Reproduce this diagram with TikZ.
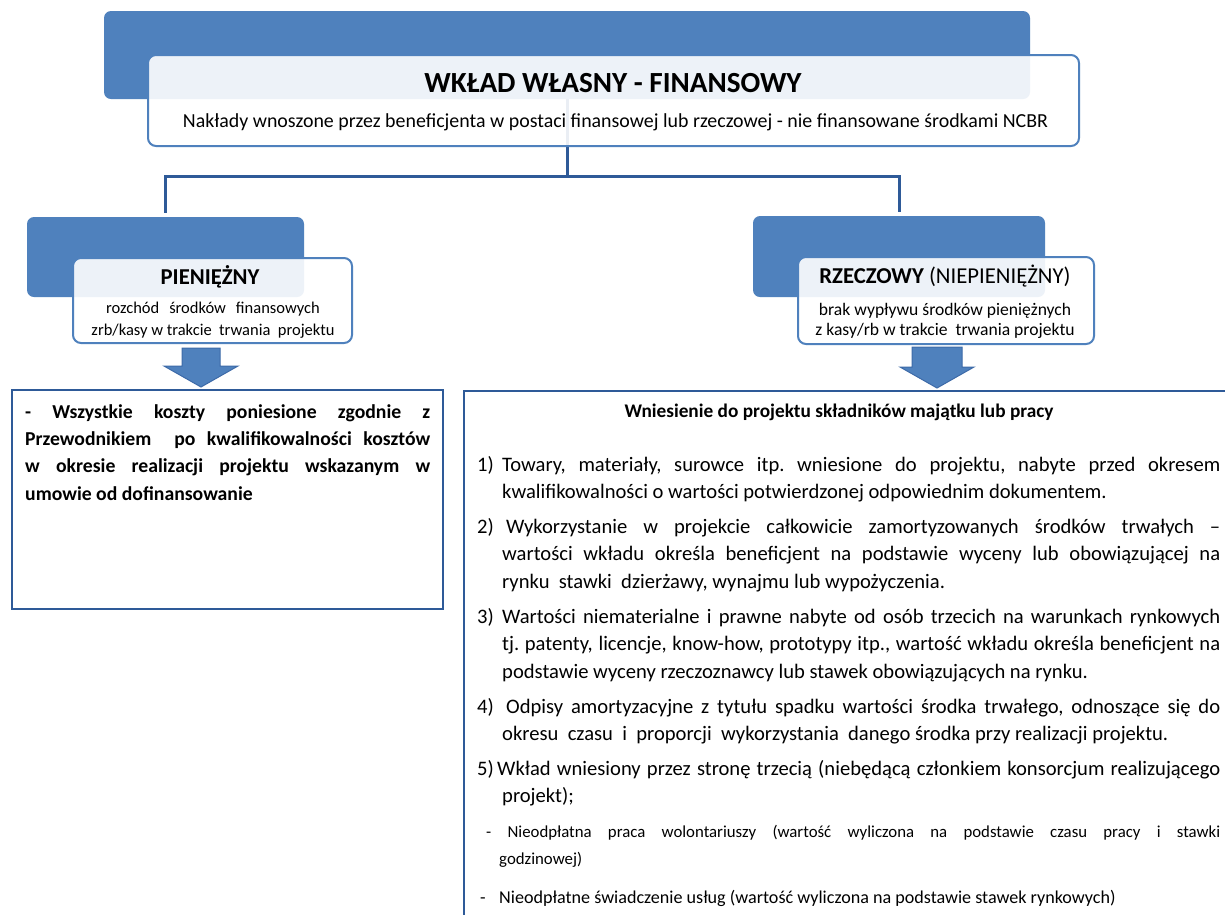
\documentclass[tikz,border=0pt]{standalone}
\usepackage{fontspec}
\setmainfont{Carlito}
\frenchspacing
\definecolor{ofblue}{HTML}{4F81BD}
\definecolor{lnblue}{HTML}{2E5A98}
\definecolor{arblue}{HTML}{3D6AA8}
\newlength\hangamt
\setlength\hangamt{25pt}
\newcommand\jfull[1]{\hbox to\hsize{#1}}
\newcommand\jhang[1]{\moveright\hangamt\hbox to\dimexpr\hsize-\hangamt\relax{#1}}
\newcommand\jend[1]{\moveright\hangamt\hbox{#1}}
\newcommand\numlbl[1]{\makebox[25pt][l]{#1}}
\tikzset{
  backbox/.style={fill=ofblue, draw=none, rounded corners=7pt, inner sep=0pt},
  frontbox/.style={draw=ofblue, line width=2pt, fill=white, fill opacity=0.9, rounded corners=8pt, inner sep=0pt},
  link/.style={draw=lnblue, line width=3pt},
  panel/.style={draw=lnblue, line width=2.2pt, inner sep=0pt},
  blockarrow/.style={fill=ofblue, draw=arblue, line width=1pt, line join=miter},
  txt/.style={inner sep=0pt, text=black},
  body/.style={txt, anchor=base west, font=\fontsize{20.6}{27.6}\selectfont},
}
\begin{document}
\begin{tikzpicture}[x=1pt,y=-1pt]
\useasboundingbox (0,0) rectangle (1225,914);
\fill[white] (0,0) rectangle (1225,914);

% back boxes
\node[backbox, minimum width=926pt, minimum height=88pt] (topback) at (567,55) {};
\node[backbox, minimum width=277pt, minimum height=80pt] (lback) at (165.5,257) {};
\node[backbox, minimum width=292pt, minimum height=81pt] (rback) at (899,256.5) {};

% connectors
\draw[link] (topback.south) -- ++(0,77) coordinate (junc);
\draw[link, shorten >=4pt] (junc) -| (lback.north);
\draw[link, shorten >=4pt] (junc) -| (rback.north);

% front boxes
\node[frontbox, minimum width=931pt, minimum height=91pt] (topfront) at (613.5,100.5) {};
\node[frontbox, minimum width=279pt, minimum height=85pt] (lfront) at (212.5,300.5) {};
\node[frontbox, minimum width=296pt, minimum height=87pt] (rfront) at (946,300.5) {};

% texts of the header boxes
\node[txt, anchor=base, font=\fontsize{29.2}{33}\selectfont\bfseries] (ttitle) at (613,92) {WKŁAD WŁASNY - FINANSOWY};
\node[txt, anchor=base, font=\fontsize{19.9}{23}\selectfont] (tsub) at (615.5,127) {Nakłady wnoszone przez beneficjenta w postaci finansowej lub rzeczowej - nie finansowane środkami NCBR};

\node[txt, anchor=base, font=\fontsize{22.7}{26}\selectfont\bfseries] (ltitle) at (210,284) {PIENIĘŻNY};
\node[txt, anchor=base, font=\fontsize{16.5}{20}\selectfont] (lsub1) at (213,313) {rozchód\hspace{10pt}środków\hspace{10pt}finansowych};
\node[txt, anchor=base, font=\fontsize{16.5}{20}\selectfont] (lsub2) at (213,335) {zrb/kasy w trakcie\ \ trwania\ \ projektu};

\node[txt, anchor=base, font=\fontsize{22.7}{26}\selectfont] (rtitle) at (945,283) {\textbf{RZECZOWY} (NIEPIENIĘŻNY)};
\node[txt, anchor=base, font=\fontsize{17.6}{21}\selectfont] (rsub1) at (945,315) {brak wypływu środków pieniężnych};
\node[txt, anchor=base, font=\fontsize{17.6}{21}\selectfont] (rsub2) at (945,335) {z kasy/rb w trakcie\ \ trwania projektu};

% block arrows
\path[blockarrow] (182,348) -- (220,348) -- (220,366) -- (238,366) -- (201,387) -- (164,366) -- (182,366) -- cycle;
\path[blockarrow] (912,347) -- (962,347) -- (962,367) -- (974,367) -- (937,388) -- (900,367) -- (912,367) -- cycle;

% bottom panels
\node[panel, minimum width=431pt, minimum height=219pt] (lpanel) at (227.5,499.5) {};
\node[panel, minimum width=800pt, minimum height=560pt, anchor=north west] (rpanel) at (463,390) {};

% left panel text
\node[txt, anchor=base west, font=\fontsize{19.7}{27.4}\selectfont\bfseries] (ltext) at (25,418) {\vtop{\hsize=405pt
  \jfull{- Wszystkie koszty poniesione zgodnie z}
  \jfull{Przewodnikiem\ \ po kwalifikowalności kosztów}
  \jfull{w okresie realizacji projektu wskazanym w}
  \hbox{umowie od dofinansowanie}}};

% right panel text
\node[txt, anchor=base, font=\fontsize{19.3}{23}\selectfont\bfseries] (rhead) at (839,417) {Wniesienie do projektu składników majątku lub pracy};

\node[body] (item1) at (477,471) {\vtop{\hsize=743pt
  \jfull{\numlbl{1)}Towary, materiały, surowce itp. wniesione do projektu, nabyte przed okresem}
  \jend{kwalifikowalności o wartości potwierdzonej odpowiednim dokumentem.}}};

\node[body] (item2) at (477,533) {\vtop{\hsize=743pt
  \jfull{\numlbl{2)}\hspace{4pt}Wykorzystanie w projekcie całkowicie zamortyzowanych środków trwałych –}
  \jhang{wartości wkładu określa beneficjent na podstawie wyceny lub obowiązującej na}
  \jend{rynku\ \ stawki\ \ dzierżawy, wynajmu lub wypożyczenia.}}};

\node[body] (item3) at (477,623) {\vtop{\hsize=743pt
  \jfull{\numlbl{3)}Wartości niematerialne i prawne nabyte od osób trzecich na warunkach rynkowych}
  \jhang{tj. patenty, licencje, know-how, prototypy itp., wartość wkładu określa beneficjent na}
  \jend{podstawie wyceny rzeczoznawcy lub stawek obowiązujących na rynku.}}};

\node[body] (item4) at (477,713) {\vtop{\hsize=743pt
  \jfull{\numlbl{4)}\hspace{4pt}Odpisy amortyzacyjne z tytułu spadku wartości środka trwałego, odnoszące się do}
  \jend{okresu\ \ czasu\ \ i\ \ proporcji\ \ wykorzystania\ \ danego środka przy realizacji projektu.}}};

\node[body] (item5) at (477,775) {\vtop{\hsize=743pt
  \jfull{\makebox[20pt][l]{5)}Wkład wniesiony przez stronę trzecią (niebędącą członkiem konsorcjum realizującego}
  \jend{projekt);}}};

\node[txt, anchor=base west, font=\fontsize{16.8}{27}\selectfont] (sub1) at (486,837) {\vtop{\hsize=734pt
  \jfull{- Nieodpłatna praca wolontariuszy (wartość wyliczona na podstawie czasu pracy i stawki}
  \moveright13pt\hbox{godzinowej)}}};

\node[txt, anchor=base west, font=\fontsize{18.1}{21}\selectfont] (sub2) at (480,903) {\makebox[19pt][l]{-}Nieodpłatne świadczenie usług (wartość wyliczona na podstawie stawek rynkowych)};

\end{tikzpicture}
\end{document}
